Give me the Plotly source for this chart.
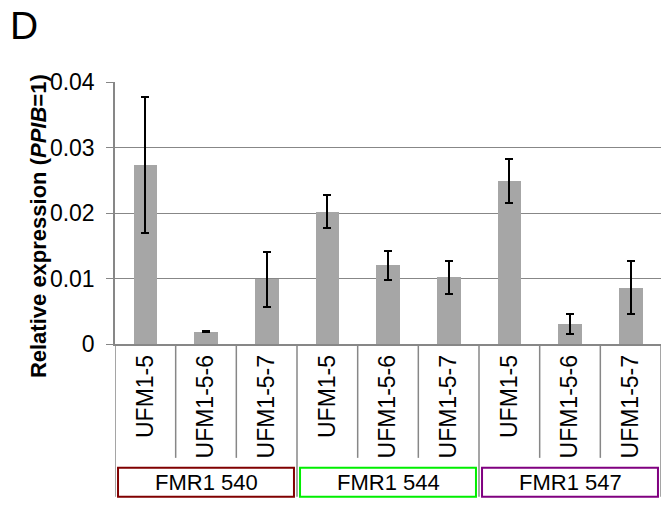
import plotly.graph_objects as go

categories = ["UFM1-5", "UFM1-5-6", "UFM1-5-7",
              "UFM1-5", "UFM1-5-6", "UFM1-5-7",
              "UFM1-5", "UFM1-5-6", "UFM1-5-7"]
values = [0.0273, 0.0019, 0.0099, 0.0202, 0.0120, 0.0102, 0.0249, 0.0031, 0.0086]
errors = [0.0104, 0.0001, 0.0042, 0.0025, 0.0022, 0.0025, 0.0033, 0.0015, 0.0040]
groups = ["FMR1 540", "FMR1 544", "FMR1 547"]
group_colors = ["#800000", "#00ee00", "#800080"]
group_size = 3
y_ticks = [0, 0.01, 0.02, 0.03, 0.04]

FONT = "Liberation Sans, Arial, sans-serif"
GRID = "#878787"
positions = list(range(len(categories)))

fig = go.Figure()
fig.add_trace(go.Bar(
    x=positions, y=values, width=0.39,
    marker=dict(color="#a6a6a6", line=dict(width=0)),
    error_y=dict(type="data", array=errors, visible=True,
                 color="black", thickness=2, width=4),
    showlegend=False, hoverinfo="skip",
))

shapes = []
n = len(categories)
# category divider lines below the axis
for k in range(n + 1):
    is_group = (k % group_size == 0)
    shapes.append(dict(type="line", xref="x", yref="paper",
                       x0=k - 0.5, x1=k - 0.5, y0=0,
                       y1=-0.5833 if is_group else -0.4346,
                       line=dict(color=GRID, width=1.5)))
annotations = []
for g, (name, col) in enumerate(zip(groups, group_colors)):
    start = g * group_size - 0.5
    end = start + group_size
    shapes.append(dict(type="rect", xref="x", yref="paper",
                       x0=start + 0.05, x1=end - 0.05,
                       y0=-0.4727, y1=-0.5833,
                       line=dict(color=col, width=2), fillcolor="white"))
    annotations.append(dict(xref="x", yref="paper", x=(start + end) / 2,
                            y=(-0.4727 - 0.5833) / 2, text=name, showarrow=False,
                            font=dict(family=FONT, size=22, color="black"),
                            xanchor="center", yanchor="middle"))

annotations.append(dict(xref="paper", yref="paper", x=-0.141, y=0.45,
                        text="<b>Relative expression (<i>PPIB</i>=1)</b>",
                        textangle=-90, showarrow=False,
                        font=dict(family=FONT, size=22, color="black"),
                        xanchor="center", yanchor="middle"))
annotations.append(dict(xref="paper", yref="paper", x=-0.196, y=1.215,
                        text="D", showarrow=False,
                        font=dict(family=FONT, size=39, color="black"),
                        xanchor="left", yanchor="middle"))

fig.update_layout(
    width=669, height=506,
    margin=dict(l=115, r=8, t=82, b=162),
    plot_bgcolor="white", paper_bgcolor="white",
    font=dict(family=FONT, size=23, color="black"),
    bargap=0,
    shapes=shapes, annotations=annotations,
    xaxis=dict(range=[-0.5, n - 0.5], tickvals=positions, ticktext=categories,
               tickangle=-90, ticks="", showline=True, linecolor=GRID, linewidth=1.5,
               showgrid=False, zeroline=False, ticklabelstandoff=0, automargin=False,
               tickfont=dict(family=FONT, size=23, color="black")),
    yaxis=dict(range=[0, 0.04], tickvals=y_ticks,
               ticktext=["0", "0.01", "0.02", "0.03", "0.04"],
               showgrid=True, gridcolor=GRID, gridwidth=1.3,
               showline=True, linecolor=GRID, linewidth=1.5,
               ticks="outside", ticklen=7, tickcolor=GRID, tickwidth=1.3,
               zeroline=False, ticklabelstandoff=7, automargin=False,
               tickfont=dict(family=FONT, size=23, color="black")),
)

fig.write_html("out.html", config={"displayModeBar": False},
               post_script="document.body.style.margin='0';")
